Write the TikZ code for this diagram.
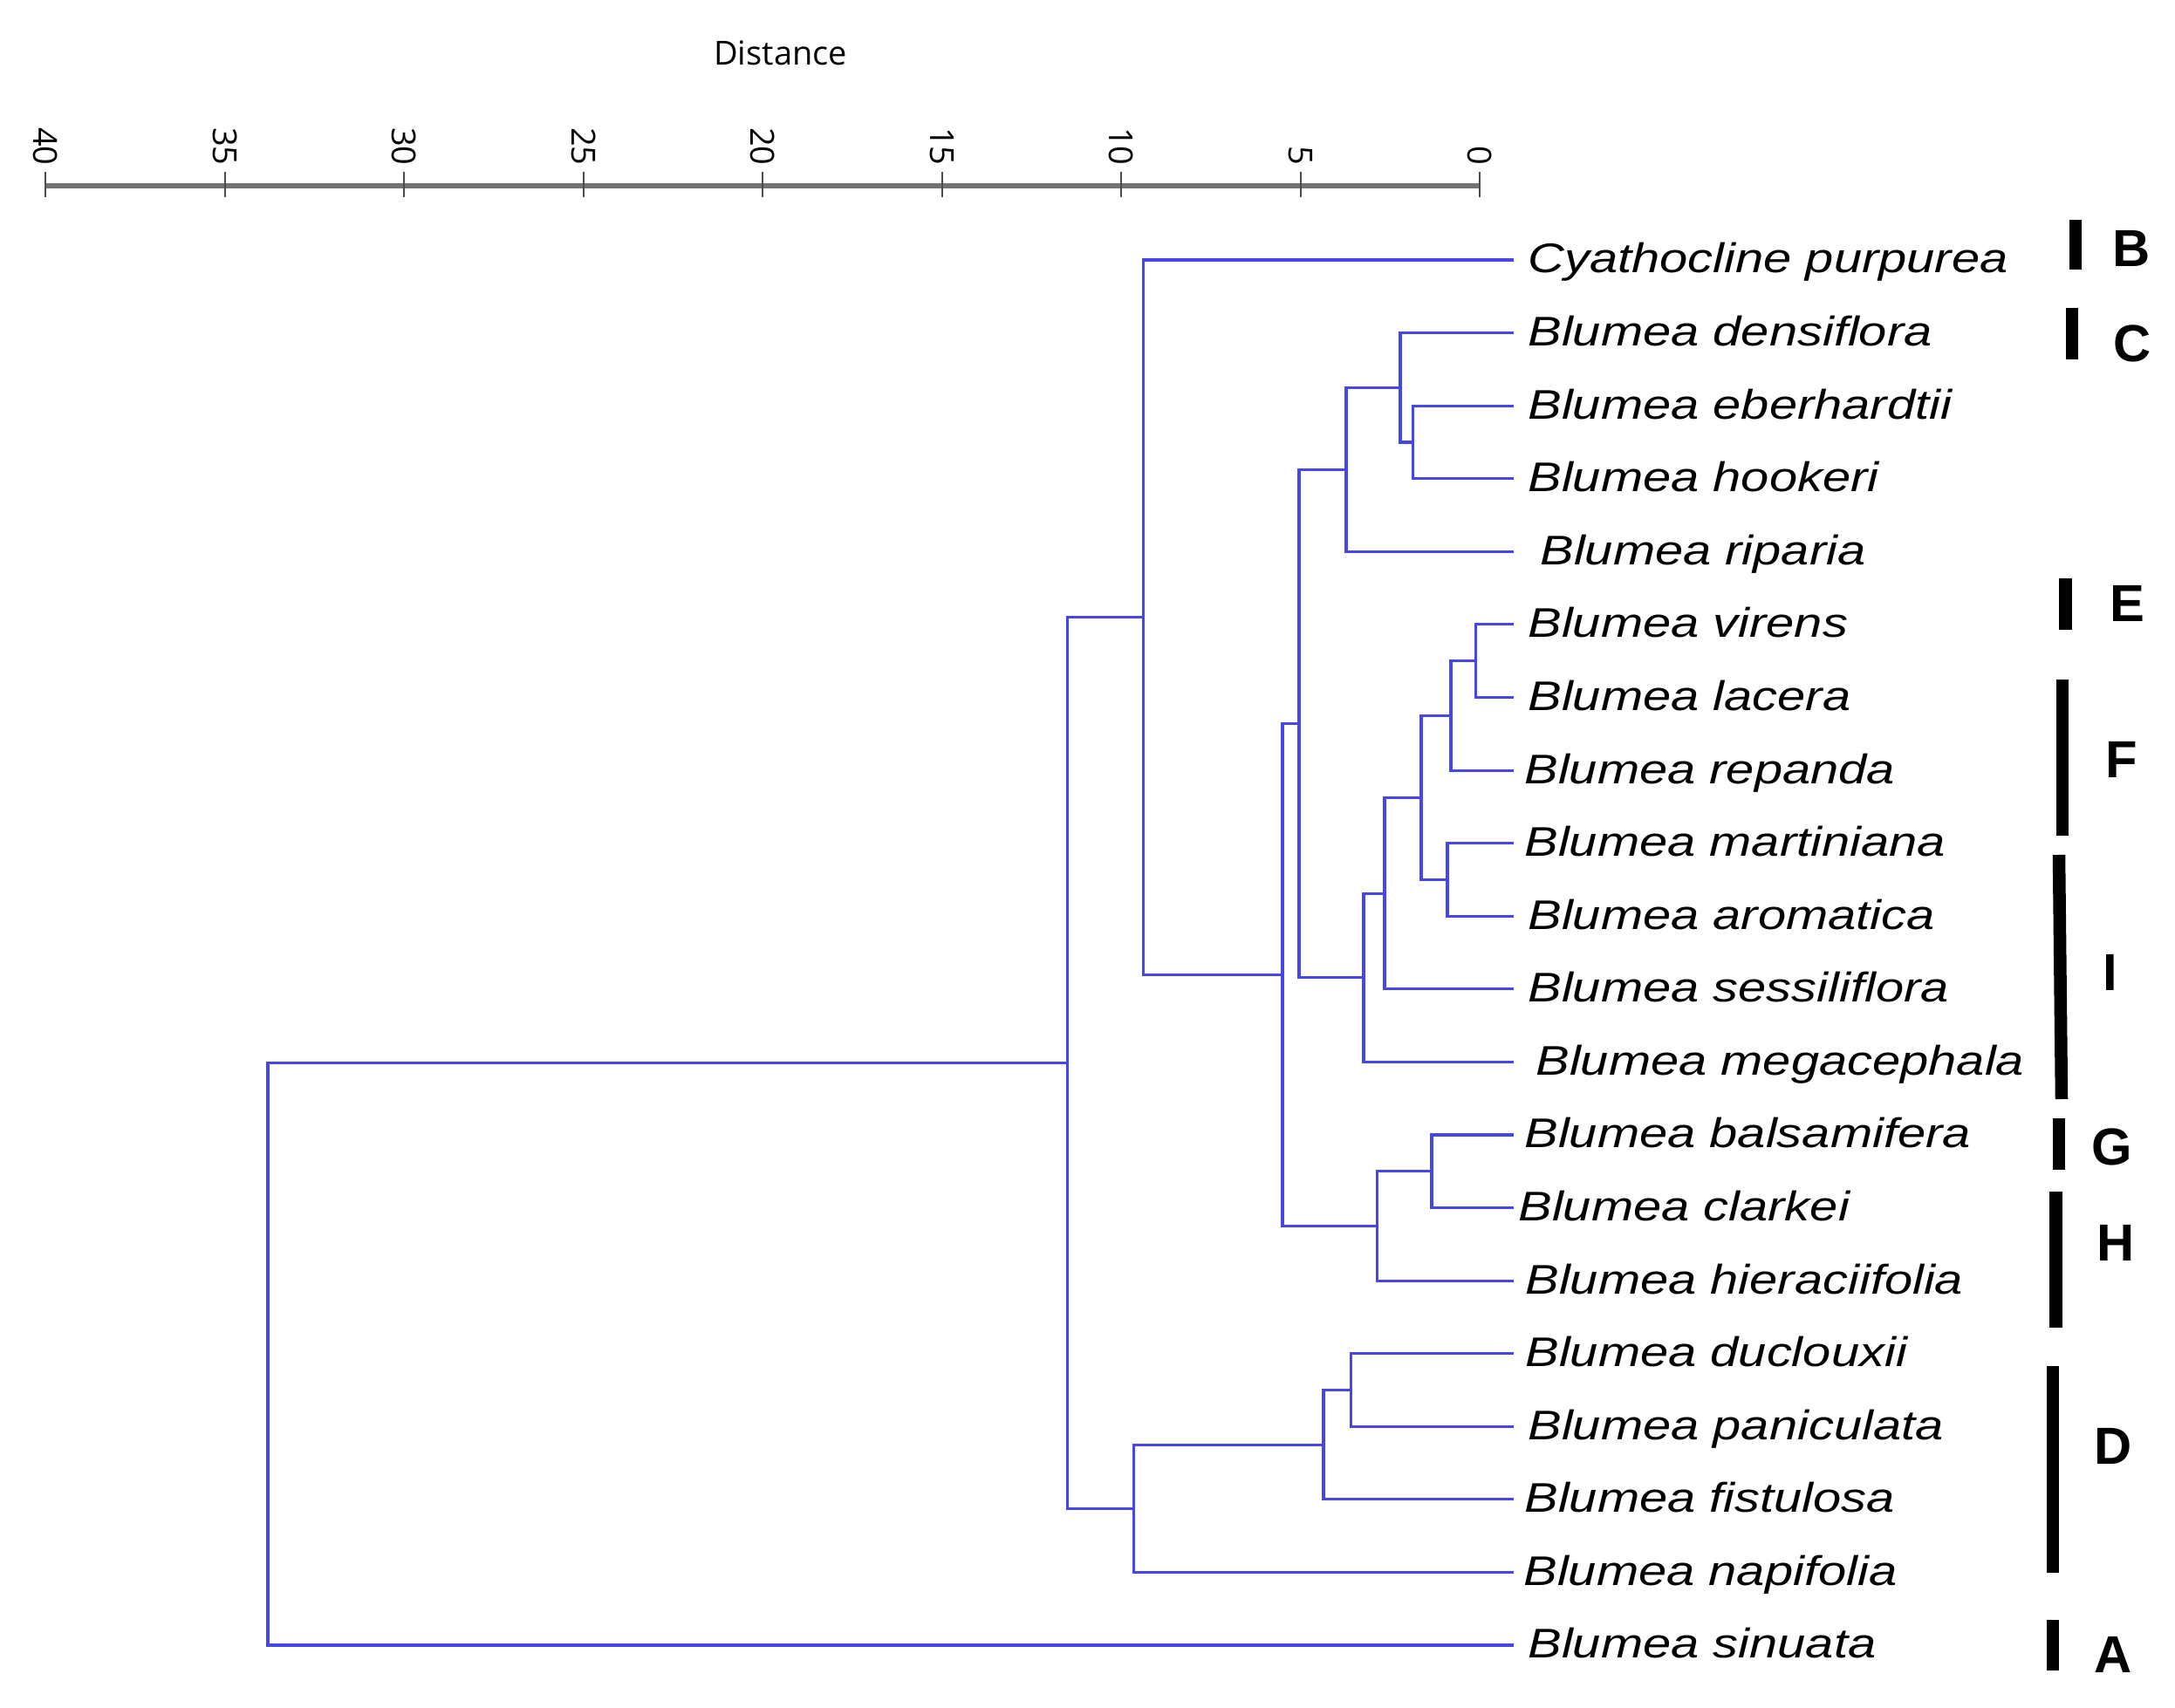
\documentclass[tikz,border=0pt]{standalone}
\usepackage{fontspec}
\setmainfont{Liberation Sans}
\newfontface\leaffont[FakeStretch=1.22]{Liberation Sans Italic}
\newfontfamily\axisfont{Open Sans}
\definecolor{branchblue}{RGB}{70,70,235}

\begin{document}
\begin{tikzpicture}[thick,
    branch/.style = {draw=branchblue, line width=0.9pt},
    leaf/.style = {anchor=west, inner xsep=0.15cm, inner ysep=0pt, text height=8.5pt, text depth=0pt, font=\leaffont\fontsize{13.5}{16}\selectfont},
    grp/.style = {inner sep=0pt, text height=12.2pt, text depth=0pt, font=\fontsize{17}{20}\selectfont\bfseries},
    grpbar/.style = {line width=0.145cm, black},
    axtick/.style = {line width=0.02cm, black!70},
    ticklabel/.style = {anchor=east, rotate=-90, inner sep=0pt, font=\axisfont\fontsize{10.8}{12}\selectfont}]
    \useasboundingbox (0,0) rectangle (24.93,-19.58);

    % Scala delle distanze
    \node[font=\axisfont\fontsize{10.8}{12}\selectfont, anchor=base] (dist) at (8.945,-0.75) {Distance};
    \draw[line width=0.055cm, black!55] (0.524,-2.13) -- (16.96,-2.13);
    \foreach \d in {0,5,...,40} {
        \draw[axtick] (16.96-0.4109*\d,-1.97) -- ++(0,-0.29);
        \node[ticklabel] at (16.96-0.4109*\d,-1.91) {\d};
    }

    % Foglie
    \node[leaf] (cya) at (17.35,-2.980) {Cyathocline purpurea};
    \node[leaf] (den) at (17.35,-3.816) {Blumea densiflora};
    \node[leaf] (ebe) at (17.35,-4.652) {Blumea eberhardtii};
    \node[leaf] (hoo) at (17.35,-5.487) {Blumea hookeri};
    \node[leaf, inner xsep=0.29cm] (rip) at (17.35,-6.323) {Blumea riparia};
    \node[leaf] (vir) at (17.35,-7.159) {Blumea virens};
    \node[leaf] (lac) at (17.35,-7.995) {Blumea lacera};
    \node[leaf, inner xsep=0.11cm] (rep) at (17.35,-8.831) {Blumea repanda};
    \node[leaf, inner xsep=0.11cm] (mar) at (17.35,-9.666) {Blumea martiniana};
    \node[leaf] (aro) at (17.35,-10.502) {Blumea aromatica};
    \node[leaf] (ses) at (17.35,-11.338) {Blumea sessiliflora};
    \node[leaf, inner xsep=0.24cm] (meg) at (17.35,-12.174) {Blumea megacephala};
    \node[leaf, inner xsep=0.11cm] (bal) at (17.35,-13.010) {Blumea balsamifera};
    \node[leaf, inner xsep=0.04cm] (cla) at (17.35,-13.845) {Blumea clarkei};
    \node[leaf, inner xsep=0.12cm] (hie) at (17.35,-14.681) {Blumea hieraciifolia};
    \node[leaf, inner xsep=0.12cm] (duc) at (17.35,-15.517) {Blumea duclouxii};
    \node[leaf] (pan) at (17.35,-16.353) {Blumea paniculata};
    \node[leaf, inner xsep=0.11cm] (fis) at (17.35,-17.189) {Blumea fistulosa};
    \node[leaf, inner xsep=0.10cm] (nap) at (17.35,-18.024) {Blumea napifolia};
    \node[leaf] (sin) at (17.35,-18.860) {Blumea sinuata};

    % Nodi interni
    \coordinate (c1) at (16.915,-7.577);
    \coordinate (c2) at (16.63,-8.204);
    \coordinate (c3) at (16.59,-10.084);
    \coordinate (c4) at (16.29,-9.144);
    \coordinate (c5) at (15.87,-10.241);
    \coordinate (c6) at (15.63,-11.208);
    \coordinate (e1) at (16.195,-5.070);
    \coordinate (e2) at (16.05,-4.443);
    \coordinate (e3) at (15.43,-5.383);
    \coordinate (e4) at (14.89,-8.296);
    \coordinate (h1) at (16.41,-13.428);
    \coordinate (h2) at (15.786,-14.055);
    \coordinate (m1) at (14.70,-11.175);
    \coordinate (m2) at (13.107,-7.078);
    \coordinate (d1) at (15.487,-15.935);
    \coordinate (d2) at (15.17,-16.562);
    \coordinate (d3) at (12.996,-17.293);
    \coordinate (r1) at (12.237,-12.186);
    \coordinate (root) at (3.07,-15.523);

    % Rami
    \draw[branch] (c1) |- (vir.west);
    \draw[branch] (c1) |- (lac.west);
    \draw[branch] (c2) |- (c1);
    \draw[branch] (c2) |- (rep.west);
    \draw[branch] (c3) |- (mar.west);
    \draw[branch] (c3) |- (aro.west);
    \draw[branch] (c4) |- (c2);
    \draw[branch] (c4) |- (c3);
    \draw[branch] (c5) |- (c4);
    \draw[branch] (c5) |- (ses.west);
    \draw[branch] (c6) |- (c5);
    \draw[branch] (c6) |- (meg.west);
    \draw[branch] (e1) |- (ebe.west);
    \draw[branch] (e1) |- (hoo.west);
    \draw[branch] (e2) |- (den.west);
    \draw[branch] (e2) |- (e1);
    \draw[branch] (e3) |- (e2);
    \draw[branch] (e3) |- (rip.west);
    \draw[branch] (e4) |- (e3);
    \draw[branch] (e4) |- (c6);
    \draw[branch] (h1) |- (bal.west);
    \draw[branch] (h1) |- (cla.west);
    \draw[branch] (h2) |- (h1);
    \draw[branch] (h2) |- (hie.west);
    \draw[branch] (m1) |- (e4);
    \draw[branch] (m1) |- (h2);
    \draw[branch] (m2) |- (cya.west);
    \draw[branch] (m2) |- (m1);
    \draw[branch] (d1) |- (duc.west);
    \draw[branch] (d1) |- (pan.west);
    \draw[branch] (d2) |- (d1);
    \draw[branch] (d2) |- (fis.west);
    \draw[branch] (d3) |- (d2);
    \draw[branch] (d3) |- (nap.west);
    \draw[branch] (r1) |- (m2);
    \draw[branch] (r1) |- (d3);
    \draw[branch] (root) |- (r1);
    \draw[branch] (root) |- (sin.west);

    % Gruppi
    \draw[grpbar] (23.79,-2.517) -- (23.79,-3.093);
    \draw[grpbar] (23.75,-3.530) -- (23.75,-4.117);
    \draw[grpbar] (23.675,-6.627) -- (23.675,-7.217);
    \draw[grpbar] (23.64,-7.790) -- (23.64,-9.580);
    \draw[grpbar] (23.60,-9.800) -- (23.63,-12.600);
    \draw[grpbar] (23.60,-12.817) -- (23.60,-13.407);
    \draw[grpbar] (23.565,-13.660) -- (23.565,-15.217);
    \draw[grpbar] (23.53,-15.660) -- (23.53,-18.027);
    \draw[grpbar] (23.53,-18.570) -- (23.53,-19.150);
    \node[grp] (gB) at (24.43,-2.84) {B};
    \node[grp] (gC) at (24.44,-3.93) {C};
    \node[grp] (gE) at (24.38,-6.91) {E};
    \node[grp] (gF) at (24.32,-8.70) {F};
    \node[grp] (gI) at (24.19,-11.14) {I};
    \node[grp] (gG) at (24.21,-13.14) {G};
    \node[grp] (gH) at (24.255,-14.24) {H};
    \node[grp] (gD) at (24.22,-16.57) {D};
    \node[grp] (gA) at (24.22,-18.965) {A};
\end{tikzpicture}
\end{document}
